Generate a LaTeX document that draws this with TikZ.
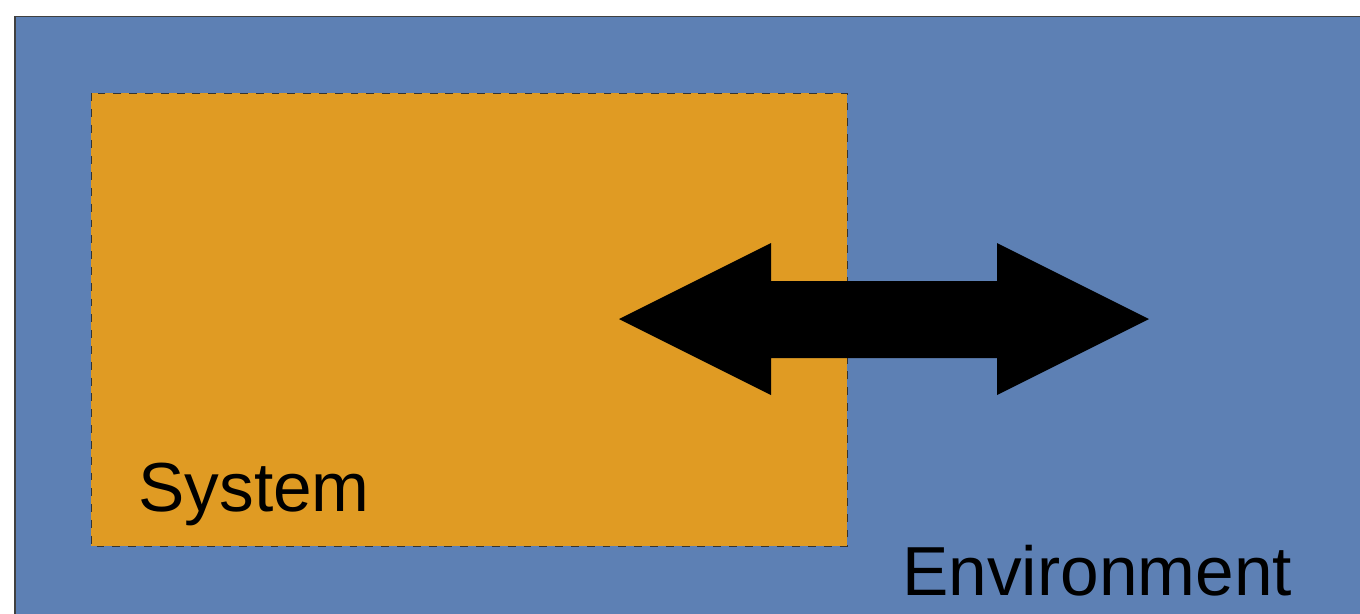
\documentclass[tikz,border=0pt]{standalone}
\usepackage{fontspec}
\setmainfont{Liberation Sans}
\usepackage{tikz}
\usetikzlibrary{positioning}

\definecolor{envblue}{RGB}{93,128,180}
\definecolor{sysorange}{RGB}{224,155,35}

\begin{document}
\begin{tikzpicture}[x=0.02cm,y=-0.02cm,
    envbox/.style={fill=envblue,draw=black!75,line width=0.9pt},
    sysbox/.style={fill=sysorange,draw=black!80,line width=0.5pt,dash pattern=on 4.5pt off 4.5pt},
    bigtext/.style={inner sep=0pt,anchor=base west,font=\fontsize{39.5}{47}\selectfont}]
        \useasboundingbox (0,0) rectangle (1360,613);
        \clip (0,0) rectangle (1360,613);

        % Environment
        \draw[envbox] (15,16.5) rectangle (1400,660);

        % System
        \draw[sysbox] (91,93) rectangle (847,546);

        % Exchange arrow
        \coordinate (ltip) at (619,319);
        \coordinate (rtip) at (1149,319);
        \fill[black] (ltip) -- (771,243) -- (771,281) -- (997,281) -- (997,243)
            -- (rtip) -- (997,395) -- (997,358) -- (771,358) -- (771,395) -- cycle;

        \node[bigtext] (system) at (138,511) {System};
        \node[bigtext] (environment) at (902,595) {Environment};
    \end{tikzpicture}
\end{document}
